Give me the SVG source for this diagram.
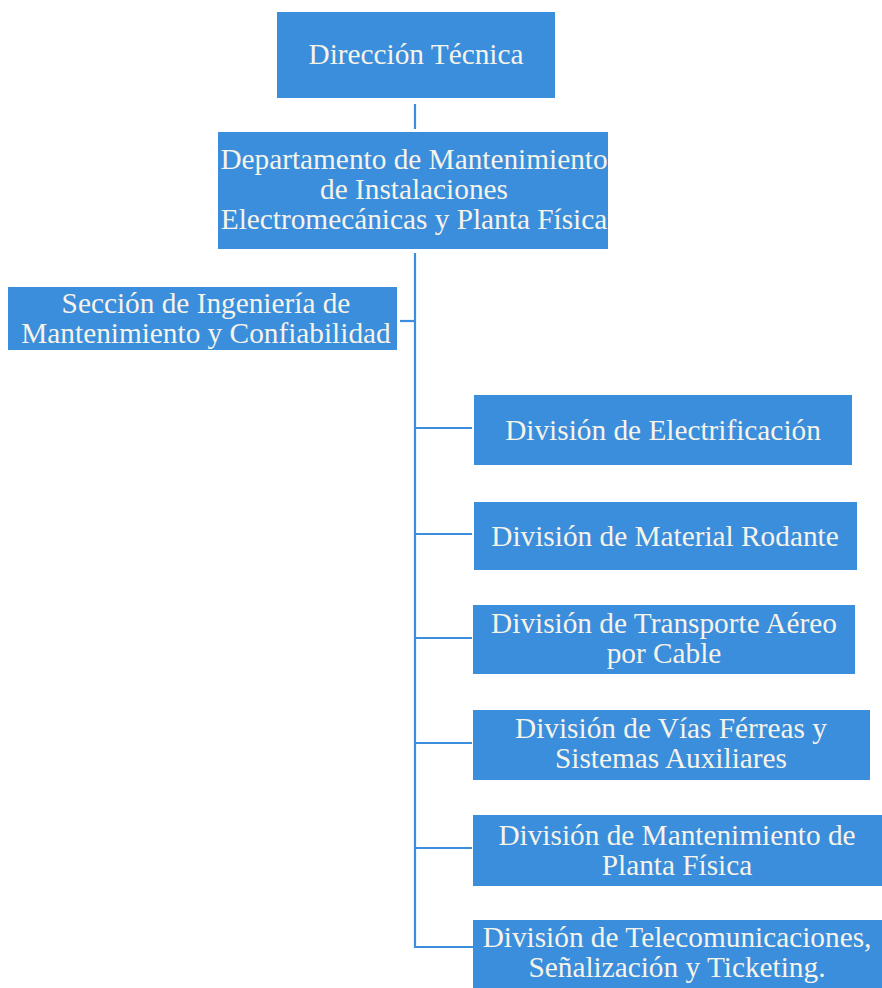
<svg xmlns="http://www.w3.org/2000/svg" width="882" height="988" viewBox="0 0 882 988">
<style>
.box{fill:#3b8edb}
.t{font-family:"Liberation Serif","Times New Roman",serif;font-size:29.3px;fill:#f6f3ea;text-anchor:middle}
.c{stroke:#3b8edb;stroke-width:2.2;fill:none}
</style>
<rect width="882" height="988" fill="#ffffff"/>
<g id="connectors">
<line class="c" x1="415" y1="104" x2="415" y2="129"/>
<polyline class="c" points="415,253 415,947 473,947"/>
<line class="c" x1="400" y1="321" x2="415" y2="321"/>
<line class="c" x1="415" y1="428" x2="472" y2="428"/>
<line class="c" x1="415" y1="534" x2="472" y2="534"/>
<line class="c" x1="415" y1="638" x2="472" y2="638"/>
<line class="c" x1="415" y1="743" x2="472" y2="743"/>
<line class="c" x1="415" y1="848" x2="472" y2="848"/>
</g>
<g id="direccion">
<rect class="box" x="277" y="12" width="278" height="86"/>
<text class="t" x="416" y="64">Dirección Técnica</text>
</g>
<g id="departamento">
<rect class="box" x="218" y="132" width="390" height="117"/>
<text class="t" x="414" y="169">Departamento de Mantenimiento</text>
<text class="t" x="414" y="199">de Instalaciones</text>
<text class="t" x="414" y="229">Electromecánicas y Planta Física</text>
</g>
<g id="seccion">
<rect class="box" x="8" y="287" width="389" height="63"/>
<text class="t" x="206" y="313">Sección de Ingeniería de</text>
<text class="t" x="206" y="343">Mantenimiento y Confiabilidad</text>
</g>
<g id="electrificacion">
<rect class="box" x="474" y="395" width="378" height="70"/>
<text class="t" x="663" y="440">División de Electrificación</text>
</g>
<g id="material">
<rect class="box" x="474" y="502" width="383" height="68"/>
<text class="t" x="665" y="546">División de Material Rodante</text>
</g>
<g id="transporte">
<rect class="box" x="473" y="605" width="382" height="69"/>
<text class="t" x="664" y="633">División de Transporte Aéreo</text>
<text class="t" x="664" y="663">por Cable</text>
</g>
<g id="vias">
<rect class="box" x="473" y="710" width="397" height="70"/>
<text class="t" x="671" y="738">División de Vías Férreas y</text>
<text class="t" x="671" y="768">Sistemas Auxiliares</text>
</g>
<g id="planta">
<rect class="box" x="473" y="815" width="409" height="71"/>
<text class="t" x="677" y="845">División de Mantenimiento de</text>
<text class="t" x="677" y="875">Planta Física</text>
</g>
<g id="telecom">
<rect class="box" x="473" y="920" width="409" height="68"/>
<text class="t" x="677" y="947">División de Telecomunicaciones,</text>
<text class="t" x="677" y="977">Señalización y Ticketing.</text>
</g>
</svg>
